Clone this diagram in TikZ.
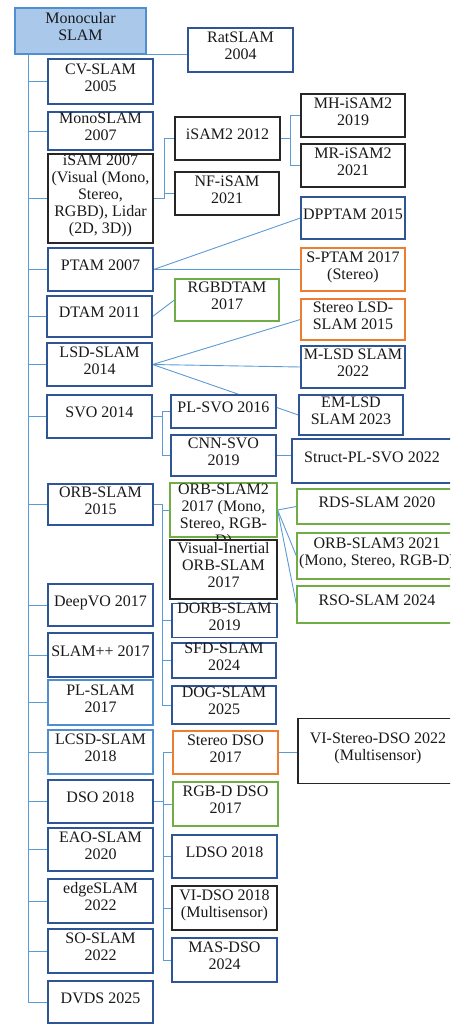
\documentclass[tikz,border=0pt]{standalone}
\usepackage{fontspec}
\setmainfont{Liberation Serif}
\usetikzlibrary{backgrounds}
\definecolor{frameblue}{HTML}{2F5597}
\definecolor{frameltblue}{HTML}{4F8FD0}
\definecolor{frameorange}{HTML}{ED7D31}
\definecolor{framegreen}{HTML}{70AD47}
\definecolor{frameblack}{HTML}{262626}
\definecolor{linkblue}{HTML}{5B9BD5}
\definecolor{rootfill}{HTML}{A9C8EA}
\newcommand{\slamtext}[1]{\raisebox{2pt}[\height][\depth]{\begin{tabular}{@{}c@{}}#1\end{tabular}}}
\begin{document}
\begin{tikzpicture}[x=1pt,y=-1pt,
        every node/.style={font=\fontsize{16}{17}\selectfont,inner sep=0pt,fill=white,line width=1.2pt,text=black!90},
        bluebox/.style={draw=frameblue},
        ltbox/.style={draw=frameltblue},
        orangebox/.style={draw=frameorange},
        greenbox/.style={draw=framegreen},
        blackbox/.style={draw=frameblack},
        wh/.style 2 args={minimum width=#1,minimum height=#2},
        link/.style={draw=linkblue,line width=0.9pt}]
        \useasboundingbox (0,0) rectangle (450,1024);
        \clip (0,0) rectangle (450,1024);
        % main column
        \node[draw=frameltblue,fill=rootfill,wh={131}{46}] (mono) at (80.5,31) {\slamtext{Monocular\\SLAM}};
        \node[bluebox,wh={105}{44}] (rat) at (240.5,50) {\slamtext{RatSLAM\\2004}};
        \node[bluebox,wh={105}{45}] (cv) at (100.5,81.5) {\slamtext{CV-SLAM\\2005}};
        \node[bluebox,wh={105}{38}] (monoslam) at (100.5,131) {\slamtext{MonoSLAM\\2007}};
        \node[blackbox,wh={105}{89}] (isam) at (100.5,198.5) {\slamtext{iSAM 2007\\(Visual (Mono,\\Stereo,\\RGBD), Lidar\\(2D, 3D))}};
        \node[bluebox,wh={105}{43}] (ptam) at (100.5,269.5) {\slamtext{PTAM 2007}};
        \node[bluebox,wh={105}{41}] (dtam) at (99.5,316.5) {\slamtext{DTAM 2011}};
        \node[bluebox,wh={105}{43}] (lsd) at (99.5,364.5) {\slamtext{LSD-SLAM\\2014}};
        \node[bluebox,wh={105}{43}] (svo) at (99.5,416.5) {\slamtext{SVO 2014}};
        \node[bluebox,wh={105}{41}] (orb) at (100.5,504.5) {\slamtext{ORB-SLAM\\2015}};
        \node[bluebox,wh={105}{42}] (deepvo) at (100.5,605) {\slamtext{DeepVO 2017}};
        \node[bluebox,wh={105}{44}] (slampp) at (100.5,655) {\slamtext{SLAM++ 2017}};
        \node[ltbox,wh={105}{45}] (plslam) at (100.5,702.5) {\slamtext{PL-SLAM\\2017}};
        \node[ltbox,wh={105}{44}] (lcsd) at (100.5,752) {\slamtext{LCSD-SLAM\\2018}};
        \node[bluebox,wh={105}{43}] (dso) at (100.5,801.5) {\slamtext{DSO 2018}};
        \node[bluebox,wh={105}{43}] (eao) at (100.5,849.5) {\slamtext{EAO-SLAM\\2020}};
        \node[bluebox,wh={105}{44}] (edge) at (100.5,901) {\slamtext{edgeSLAM\\2022}};
        \node[bluebox,wh={105}{44}] (so) at (100.5,951) {\slamtext{SO-SLAM\\2022}};
        \node[bluebox,wh={105}{42}] (dvds) at (100.5,1002) {\slamtext{DVDS 2025}};
        % second column
        \node[blackbox,wh={105}{43}] (isam2) at (227.5,138.5) {\slamtext{iSAM2 2012}};
        \node[blackbox,wh={104}{43}] (nfisam) at (227,193.5) {\slamtext{NF-iSAM\\2021}};
        \node[greenbox,wh={104}{42}] (rgbdtam) at (227,300) {\slamtext{RGBDTAM\\2017}};
        \node[bluebox,wh={105}{33}] (plsvo) at (223.5,411.5) {\slamtext{PL-SVO 2016}};
        \node[bluebox,wh={105}{41}] (cnnsvo) at (223.5,455.5) {\slamtext{CNN-SVO\\2019}};
        \node[greenbox,wh={107}{54}] (orb2) at (223.5,510) {\parbox[c][54pt][t]{107pt}{\centering\vspace*{1pt}ORB-SLAM2\\2017 (Mono,\\Stereo, RGB-\\D)}};
        \node[blackbox,wh={107}{59}] (vio) at (223.5,569.5) {\slamtext{Visual-Inertial\\ORB-SLAM\\2017}};
        \node[bluebox,wh={105}{33}] (dorb) at (224.5,620.5) {\slamtext{DORB-SLAM\\2019}};
        \node[bluebox,wh={104}{35}] (sfd) at (224,660.5) {\slamtext{SFD-SLAM\\2024}};
        \node[bluebox,wh={104}{38}] (dog) at (224,705) {\slamtext{DOG-SLAM\\2025}};
        \node[orangebox,wh={105}{43}] (sdso) at (225.5,752.5) {\slamtext{Stereo DSO\\2017}};
        \node[greenbox,wh={105}{44}] (rgbddso) at (225.5,804) {\slamtext{RGB-D DSO\\2017}};
        \node[bluebox,wh={105}{43}] (ldso) at (224.5,856.5) {\slamtext{LDSO 2018}};
        \node[blackbox,wh={105}{44}] (vidso) at (224.5,908) {\slamtext{VI-DSO 2018\\(Multisensor)}};
        \node[bluebox,wh={105}{44}] (masdso) at (224.5,960) {\slamtext{MAS-DSO\\2024}};
        % third column
        \node[blackbox,wh={104}{43}] (mhisam) at (353,115.5) {\slamtext{MH-iSAM2\\2019}};
        \node[blackbox,wh={104}{43}] (mrisam) at (353,165.5) {\slamtext{MR-iSAM2\\2021}};
        \node[bluebox,wh={104}{42}] (dpptam) at (353,218) {\slamtext{DPPTAM 2015}};
        \node[orangebox,wh={104}{43}] (sptam) at (353,269.5) {\slamtext{S-PTAM 2017\\(Stereo)}};
        \node[orangebox,wh={104}{41}] (slsd) at (353,319.5) {\slamtext{Stereo LSD-\\SLAM 2015}};
        \node[bluebox,wh={104}{42}] (mlsd) at (353,367) {\slamtext{M-LSD SLAM\\2022}};
        \node[bluebox,wh={104}{40}] (emlsd) at (351,415) {\slamtext{EM-LSD\\SLAM 2023}};
        % right edge
        \node[bluebox,wh={160}{44}] (structsvo) at (372,461) {\slamtext{Struct-PL-SVO 2022}};
        \node[greenbox,wh={160}{35}] (rds) at (377,506.5) {\slamtext{RDS-SLAM 2020}};
        \node[greenbox,wh={160}{46}] (orb3) at (377,556) {\slamtext{ORB-SLAM3 2021\\(Mono, Stereo, RGB-D)}};
        \node[greenbox,wh={160}{37}] (rso) at (377,604.5) {\slamtext{RSO-SLAM 2024}};
        \node[blackbox,wh={160}{65}] (vistereo) at (378,751) {\slamtext{VI-Stereo-DSO 2022\\(Multisensor)}};
        \begin{scope}[on background layer]
                \coordinate (trunk) at ([xshift=14pt]mono.south west);
                \foreach \n in {cv,monoslam,isam,ptam,dtam,lsd,svo,orb,deepvo,slampp,plslam,lcsd,dso,eao,edge,so,dvds}
                        \draw[link] (trunk) |- (\n.west);
                \draw[link] (mono.south east) -- (mono.south east -| rat.west);
                \draw[link] (isam.east) -- ++(11,0) coordinate (isamfork) |- (isam2.west);
                \draw[link] (isamfork) |- (nfisam.west);
                \draw[link] (isam2.east) -- ++(10,0) coordinate (isamtwofork) |- (mhisam.west);
                \draw[link] (isamtwofork) |- (mrisam.west);
                \draw[link] (ptam.east) -- (dpptam.west);
                \draw[link] (ptam.east) -- (sptam.west);
                \draw[link] (dtam.east) -- (rgbdtam.west);
                \foreach \n in {slsd,mlsd,emlsd}
                        \draw[link] (lsd.east) -- (\n.west);
                \draw[link] (svo.east) -- ++(10,0) coordinate (svofork) |- (plsvo.west);
                \draw[link] (svofork) |- (cnnsvo.west);
                \draw[link] (cnnsvo.east) -- (cnnsvo.east -| structsvo.west);
                \draw[link] (orb.east) -- ++(9,0) coordinate (orbfork) |- (orb2.west);
                \foreach \n in {dorb,sfd,dog}
                        \draw[link] (orbfork) |- (\n.west);
                \foreach \n in {rds,orb3,rso}
                        \draw[link] (orb2.east) -- (\n.west);
                \draw[link] (dso.east) -- ++(10,0) coordinate (dsofork);
                \foreach \n in {sdso,rgbddso,ldso,vidso,masdso}
                        \draw[link] (dsofork) |- (\n.west);
                \draw[link] (sdso.east) -- (sdso.east -| vistereo.west);
        \end{scope}
\end{tikzpicture}
\end{document}
